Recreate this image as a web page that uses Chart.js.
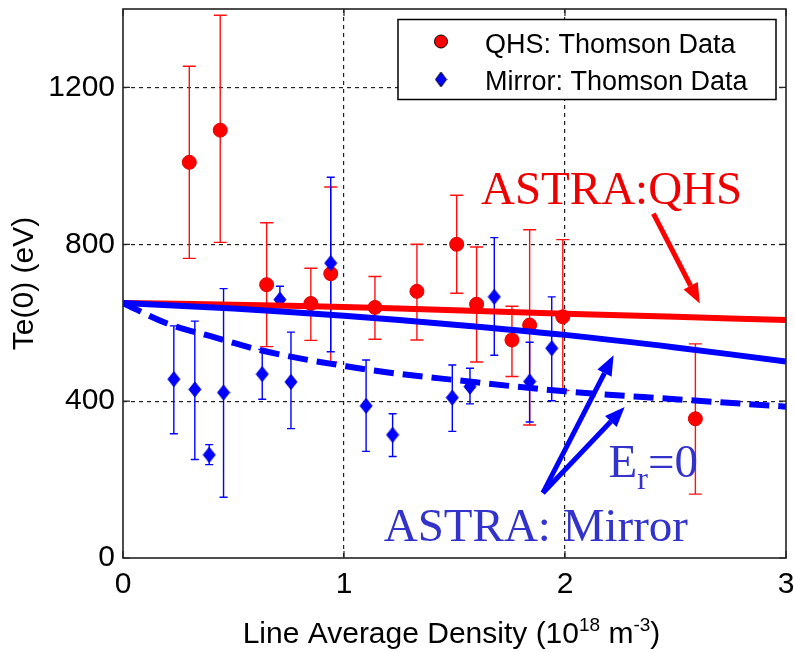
<!DOCTYPE html>
<html>
<head>
<meta charset="utf-8">
<script src="https://cdn.jsdelivr.net/npm/chart.js@4.4.0/dist/chart.umd.min.js"></script>
<style>
  html, body { margin: 0; padding: 0; background: #fff; }
  #wrap { width: 794px; height: 652px; }
</style>
</head>
<body>
<div id="wrap"><canvas id="chart" width="794" height="652"></canvas></div>
<script>
// QHS: Thomson data (Te(0) in eV vs line average density in 1e18 m^-3)
const qhsX    = [0.30, 0.44, 0.65, 0.85, 0.94, 1.14, 1.33, 1.51, 1.60, 1.76, 1.84, 1.99, 2.59];
const qhsY    = [1009, 1091, 697, 649, 725, 639, 680, 800, 647, 556, 594, 615, 355];
const qhsHigh = [1254, 1384, 855, 739, 946, 718, 800, 925, 793, 642, 837, 812, 546];
const qhsLow  = [764, 805, 539, 555, 500, 558, 556, 675, 500, 463, 339, 427, 163];

// Mirror: Thomson data
const mirrorX    = [0.23, 0.325, 0.39, 0.455, 0.63, 0.71, 0.76, 0.94, 1.10, 1.22, 1.49, 1.57, 1.68, 1.84, 1.94];
const mirrorY    = [456, 430, 263, 422, 469, 659, 449, 752, 388, 314, 409, 437, 666, 450, 535];
const mirrorHigh = [592, 604, 289, 687, 532, 693, 576, 971, 505, 368, 492, 484, 817, 550, 666];
const mirrorLow  = [317, 251, 238, 155, 405, 627, 330, 526, 272, 259, 323, 393, 517, 347, 401];

// ASTRA model curves
const fitX      = [0, 0.5, 1, 1.5, 2, 2.5, 3];
const qhsFit    = [650, 646, 640, 632, 623, 615, 607];
const mirrorFit = [650, 636, 618, 595, 569, 537, 501];
const erZeroX   = [0, 0.2, 0.4, 0.6, 0.8, 1.0, 1.2, 1.5, 2.0, 2.5, 3.0];
const erZeroFit = [650, 598, 565, 533, 509, 490, 473, 454, 425, 405, 386];

// axes
const xTicks = [0, 1, 2, 3];
const yTicks = [0, 400, 800, 1200];
const yMax = 1400;

const SANS = "'Liberation Sans', Arial, sans-serif";
const SERIF = "'Liberation Serif', 'Times New Roman', serif";
const TEXT_BLUE = '#3333cc';

const pts = (xs, ys) => xs.map((x, i) => ({ x: x, y: ys[i] }));

// diamond marker as an image point style
function diamond(w, h, fill, stroke) {
    const c = document.createElement('canvas');
    c.width = w + 2;
    c.height = h + 2;
    const g = c.getContext('2d');
    g.beginPath();
    g.moveTo(c.width / 2, 1);
    g.lineTo(c.width - 1, c.height / 2);
    g.lineTo(c.width / 2, c.height - 1);
    g.lineTo(1, c.height / 2);
    g.closePath();
    g.fillStyle = fill;
    g.fill();
    if (stroke) {
        g.strokeStyle = stroke;
        g.lineWidth = 1;
        g.stroke();
    }
    return c;
}
const blueDiamond = diamond(12, 15, '#0000ff', '#0000d0');
const legendDiamond = diamond(11, 15, '#0000ff', '#000');

// error bars under the markers
const errorBars = {
    id: 'errorBars',
    beforeDatasetsDraw(chart) {
        const { ctx, scales: { x, y } } = chart;
        const sets = [
            [qhsX, qhsLow, qhsHigh, '#ff1010', 6.5],
            [mirrorX, mirrorLow, mirrorHigh, '#0000ff', 4]
        ];
        ctx.save();
        ctx.lineWidth = 1.4;
        sets.forEach(([xs, lo, hi, col, cap]) => {
            ctx.strokeStyle = col;
            xs.forEach((xv, i) => {
                const px = x.getPixelForValue(xv);
                const pLo = y.getPixelForValue(lo[i]);
                const pHi = y.getPixelForValue(hi[i]);
                ctx.beginPath();
                ctx.moveTo(px, pLo); ctx.lineTo(px, pHi);
                ctx.moveTo(px - cap, pLo); ctx.lineTo(px + cap, pLo);
                ctx.moveTo(px - cap, pHi); ctx.lineTo(px + cap, pHi);
                ctx.stroke();
            });
        });
        ctx.restore();
    }
};

// arrows and text labels, anchored in data units
const annoArrows = [
    { from: [2.40, 878], to: [2.61, 649], color: '#ff0000' },
    { from: [1.90, 166], to: [2.22, 517], color: '#0000ff' },
    { from: [1.90, 166], to: [2.27, 385], color: '#0000ff' }
];

function arrow(ctx, x1, y1, x2, y2, color) {
    const ang = Math.atan2(y2 - y1, x2 - x1);
    const len = 20, half = 8;
    const bx = x2 - len * Math.cos(ang), by = y2 - len * Math.sin(ang);
    ctx.strokeStyle = color;
    ctx.fillStyle = color;
    ctx.lineWidth = 5;
    ctx.lineCap = 'butt';
    ctx.beginPath();
    ctx.moveTo(x1, y1);
    ctx.lineTo(bx, by);
    ctx.stroke();
    ctx.beginPath();
    ctx.moveTo(x2, y2);
    ctx.lineTo(bx + half * Math.sin(ang), by - half * Math.cos(ang));
    ctx.lineTo(bx - half * Math.sin(ang), by + half * Math.cos(ang));
    ctx.closePath();
    ctx.fill();
}

const annotations = {
    id: 'annotations',
    afterDatasetsDraw(chart) {
        const { ctx, scales: { x, y } } = chart;
        ctx.save();
        annoArrows.forEach(a => {
            arrow(ctx, x.getPixelForValue(a.from[0]), y.getPixelForValue(a.from[1]),
                x.getPixelForValue(a.to[0]), y.getPixelForValue(a.to[1]), a.color);
        });
        ctx.textBaseline = 'alphabetic';
        ctx.textAlign = 'left';
        ctx.font = '47px ' + SERIF;
        ctx.fillStyle = '#ee0000';
        ctx.fillText('ASTRA:QHS', x.getPixelForValue(1.62), y.getPixelForValue(904));
        ctx.fillStyle = TEXT_BLUE;
        ctx.fillText('ASTRA: Mirror', x.getPixelForValue(1.18), y.getPixelForValue(44));
        // E_r=0
        const ex = x.getPixelForValue(2.197), ey = y.getPixelForValue(207);
        ctx.fillText('E', ex, ey);
        const ew = ctx.measureText('E').width;
        ctx.font = '32px ' + SERIF;
        ctx.fillText('r', ex + ew, ey + 12);
        const rw = ctx.measureText('r').width;
        ctx.font = '47px ' + SERIF;
        ctx.fillText('=0', ex + ew + rw, ey);
        ctx.restore();
    }
};

// axes frame with inward ticks
const frame = {
    id: 'frame',
    afterDraw(chart) {
        const { ctx, chartArea: a, scales: { x, y } } = chart;
        ctx.save();
        ctx.strokeStyle = '#222';
        ctx.lineWidth = 1.6;
        ctx.strokeRect(a.left, a.top, a.right - a.left, a.bottom - a.top);
        ctx.lineWidth = 1.2;
        ctx.beginPath();
        xTicks.forEach(v => {
            const px = x.getPixelForValue(v);
            ctx.moveTo(px, a.bottom); ctx.lineTo(px, a.bottom - 7);
            ctx.moveTo(px, a.top); ctx.lineTo(px, a.top + 7);
        });
        yTicks.forEach(v => {
            const py = y.getPixelForValue(v);
            ctx.moveTo(a.left, py); ctx.lineTo(a.left + 7, py);
            ctx.moveTo(a.right, py); ctx.lineTo(a.right - 7, py);
        });
        ctx.stroke();
        ctx.restore();
    }
};

// legend box in the top right corner
const legendBox = {
    id: 'legendBox',
    afterDraw(chart) {
        const { ctx, chartArea: a } = chart;
        const left = a.right - 388, top = a.top + 10.5, w = 378, h = 80;
        ctx.save();
        ctx.fillStyle = '#fff';
        ctx.fillRect(left, top, w, h);
        ctx.strokeStyle = '#000';
        ctx.lineWidth = 1.5;
        ctx.strokeRect(left, top, w, h);
        const labels = [chart.data.datasets[0].label, chart.data.datasets[1].label];
        // red circle
        ctx.beginPath();
        ctx.arc(left + 43, top + 22, 6.5, 0, Math.PI * 2);
        ctx.fillStyle = '#ff0000';
        ctx.fill();
        ctx.lineWidth = 1;
        ctx.strokeStyle = '#000';
        ctx.stroke();
        ctx.drawImage(legendDiamond, left + 43 - legendDiamond.width / 2, top + 60 - legendDiamond.height / 2);
        ctx.fillStyle = '#000';
        ctx.font = '27px ' + SANS;
        ctx.textBaseline = 'alphabetic';
        ctx.fillText(labels[0], left + 87, top + 33);
        ctx.fillText(labels[1], left + 87, top + 70);
        ctx.restore();
    }
};

// x axis title with superscripts
const xTitle = {
    id: 'xTitle',
    afterDraw(chart) {
        const { ctx, chartArea: a } = chart;
        const parts = [
            ['Line Average Density (10', 30, 0],
            ['18', 19, -12],
            [' m', 30, 0],
            ['-3', 19, -12],
            [')', 30, 0]
        ];
        ctx.save();
        ctx.fillStyle = '#000';
        ctx.textBaseline = 'alphabetic';
        let total = 0;
        parts.forEach(p => { ctx.font = p[1] + 'px ' + SANS; total += ctx.measureText(p[0]).width; });
        let cx = (a.left + a.right) / 2 - 3 - total / 2;
        const base = a.bottom + 85;
        parts.forEach(p => {
            ctx.font = p[1] + 'px ' + SANS;
            ctx.fillText(p[0], cx, base + p[2]);
            cx += ctx.measureText(p[0]).width;
        });
        ctx.restore();
    }
};

const gridColor = max => c => (c.tick.value === 0 || c.tick.value === max) ? 'rgba(0,0,0,0)' : '#222';

Chart.defaults.font.family = SANS;
Chart.defaults.color = '#000';

new Chart(document.getElementById('chart'), {
    type: 'scatter',
    data: {
        datasets: [
            {
                label: 'QHS: Thomson Data',
                data: pts(qhsX, qhsY),
                pointStyle: 'circle',
                pointRadius: 7,
                pointBackgroundColor: '#ff0000',
                pointBorderColor: '#e00000',
                pointBorderWidth: 1,
                order: 3
            },
            {
                label: 'Mirror: Thomson Data',
                data: pts(mirrorX, mirrorY),
                pointStyle: blueDiamond,
                order: 2
            },
            {
                type: 'line',
                label: 'ASTRA:QHS',
                data: pts(fitX, qhsFit),
                borderColor: '#ff0000',
                borderWidth: 6,
                pointRadius: 0,
                tension: 0.3,
                order: 1
            },
            {
                type: 'line',
                label: 'ASTRA: Mirror',
                data: pts(fitX, mirrorFit),
                borderColor: '#0000ff',
                borderWidth: 6,
                pointRadius: 0,
                tension: 0.3,
                order: 0
            },
            {
                type: 'line',
                label: 'Er=0',
                data: pts(erZeroX, erZeroFit),
                borderColor: '#0000ff',
                borderWidth: 6,
                borderDash: [20, 9],
                borderCapStyle: 'butt',
                pointRadius: 0,
                cubicInterpolationMode: 'monotone',
                order: 0
            }
        ]
    },
    options: {
        responsive: false,
        animation: false,
        devicePixelRatio: 1,
        layout: { padding: { left: 0, right: 5, top: 9, bottom: 0 } },
        plugins: {
            legend: { display: false },
            tooltip: { enabled: false }
        },
        scales: {
            x: {
                type: 'linear',
                min: 0,
                max: 3,
                afterBuildTicks: s => { s.ticks = xTicks.map(v => ({ value: v })); },
                ticks: { font: { size: 30 }, padding: 9, maxRotation: 0, callback: v => String(v) },
                grid: { color: gridColor(3), lineWidth: 1.2, drawTicks: false },
                border: { display: false, dash: [4, 4] },
                afterFit: s => { s.height = 94; s.paddingLeft = 0; s.paddingRight = 0; }
            },
            y: {
                type: 'linear',
                min: 0,
                max: yMax,
                afterBuildTicks: s => { s.ticks = yTicks.map(v => ({ value: v })); },
                ticks: { font: { size: 30 }, padding: 8, callback: v => String(v) },
                grid: { color: gridColor(yMax), lineWidth: 1.2, drawTicks: false },
                border: { display: false, dash: [4, 4] },
                title: { display: true, text: 'Te(0) (eV)', font: { size: 30 }, padding: { top: 7, bottom: 0 } },
                afterFit: s => { s.width = 123; s.paddingTop = 0; s.paddingBottom = 0; }
            }
        }
    },
    plugins: [errorBars, annotations, frame, legendBox, xTitle]
});
</script>
</body>
</html>
